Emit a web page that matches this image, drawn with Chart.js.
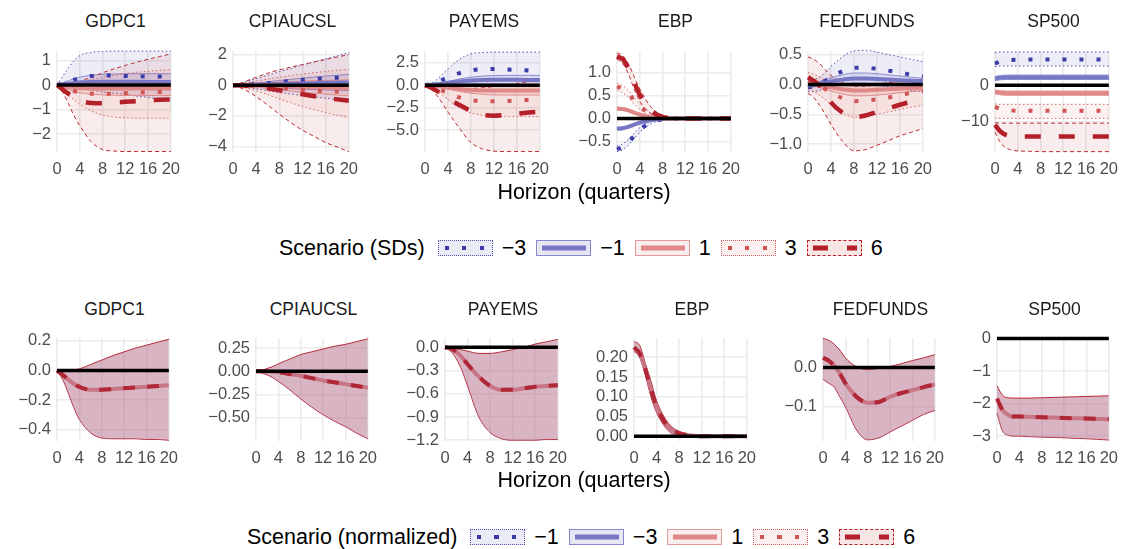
<!DOCTYPE html>
<html>
<head>
<meta charset="utf-8">
<script src="https://cdn.jsdelivr.net/npm/chart.js@4.4.1/dist/chart.umd.min.js"></script>
<style>
body { margin:0; width:1131px; height:549px; background:#fff; position:relative; overflow:hidden;
       font-family:"Liberation Sans", Arial, sans-serif; }
canvas { position:absolute; }
.ttl { position:absolute; font-size:17.5px; line-height:20px; color:#1a1a1a; transform:translateX(-50%); white-space:nowrap; }
.axt { position:absolute; font-size:21.5px; line-height:24px; color:#000; transform:translateX(-50%); white-space:nowrap; }
.leg { position:absolute; display:flex; align-items:center; font-size:21.5px; line-height:24px; color:#000; white-space:nowrap; }
.key { position:relative; width:55px; height:16px; margin-left:10px; box-sizing:border-box; }
.key.first { margin-left:13px; }
.key i { position:absolute; left:5px; right:4px; top:50%; transform:translateY(-50%); }
.lab { margin-left:9px; }
.k1 { background:#ebebf6; border:1px dotted #4f4fb4; }
.k1 i { height:4px; background:repeating-linear-gradient(90deg,#3a3aa8 0 4px,transparent 4px 17.5px); left:6px; }
.k2 { background:#e7e7f4; border:1.5px solid #8787cd; }
.k2 i { height:5px; background:#7777c4; }
.k3 { background:#fbeeee; border:1.5px solid #e39a9a; }
.k3 i { height:5px; background:#e08888; }
.k4 { background:#fbefef; border:1px dotted #d46464; }
.k4 i { height:4px; background:repeating-linear-gradient(90deg,#cf5555 0 4px,transparent 4px 17.5px); left:6px; }
.k5 { background:#f8e5e5; border:1px dashed #b3202a; }
.k5 i { height:5px; background:repeating-linear-gradient(90deg,#b3202a 0 15px,transparent 15px 34px); }
</style>
</head>
<body>
<script>
Chart.defaults.font.family = '"Liberation Sans", Arial, sans-serif';

// horizons (quarters) and axis ticks
const H = [0, 1, 2, 3, 4, 6, 8, 10, 12, 14, 16, 18, 20];
const X_TICKS = [0, 4, 8, 12, 16, 20];
const VARS = ['GDPC1', 'CPIAUCSL', 'PAYEMS', 'EBP', 'FEDFUNDS', 'SP500'];
const SCEN_SD = ['\u22123', '\u22121', '1', '3', '6'];
const SCEN_NORM = ['\u22121', '\u22123', '1', '3', '6'];

// ---- top row (Scenario in SDs): each scenario = [lower, median, upper]
const GDPC1_M3 = [[0,-0.02,-0.05,-0.08,-0.12,-0.2,-0.28,-0.33,-0.38,-0.45,-0.5,-0.57,-0.63],
                  [0,0.08,0.15,0.22,0.28,0.37,0.4,0.39,0.37,0.36,0.35,0.35,0.34],
                  [0,0.35,0.7,1.0,1.2,1.33,1.37,1.38,1.38,1.38,1.38,1.38,1.38]];
const GDPC1_M1 = [[0,-0.03,-0.06,-0.09,-0.11,-0.14,-0.16,-0.17,-0.18,-0.18,-0.19,-0.19,-0.19],
                  [0,0.03,0.06,0.09,0.11,0.13,0.14,0.14,0.14,0.14,0.13,0.13,0.13],
                  [0,0.1,0.18,0.26,0.32,0.4,0.44,0.45,0.46,0.46,0.46,0.46,0.46]];
const GDPC1_P1 = [[0,-0.1,-0.18,-0.26,-0.31,-0.37,-0.4,-0.41,-0.42,-0.42,-0.42,-0.42,-0.42],
                  [0,-0.04,-0.07,-0.1,-0.12,-0.14,-0.14,-0.14,-0.14,-0.13,-0.13,-0.13,-0.13],
                  [0,0.02,0.05,0.08,0.1,0.14,0.16,0.17,0.18,0.18,0.19,0.19,0.19]];
const GDPC1_P3 = [[0,-0.15,-0.4,-0.6,-0.78,-1.05,-1.22,-1.3,-1.33,-1.35,-1.35,-1.35,-1.35],
                  [0,-0.08,-0.16,-0.24,-0.29,-0.35,-0.36,-0.35,-0.33,-0.31,-0.29,-0.28,-0.27],
                  [0,0.01,0.04,0.08,0.12,0.22,0.32,0.4,0.47,0.52,0.56,0.6,0.63]];
const GDPC1_P6 = [[0,-0.3,-0.75,-1.25,-1.65,-2.3,-2.62,-2.68,-2.7,-2.7,-2.7,-2.7,-2.7],
                  [0,-0.18,-0.35,-0.52,-0.63,-0.73,-0.74,-0.71,-0.68,-0.65,-0.62,-0.6,-0.58],
                  [0,0.0,0.03,0.08,0.15,0.32,0.5,0.66,0.8,0.93,1.05,1.16,1.27]];

const CPI_M3 = [[0,-0.06,-0.12,-0.18,-0.24,-0.36,-0.48,-0.58,-0.68,-0.77,-0.86,-0.94,-1.02],
                [0,0.02,0.04,0.06,0.08,0.13,0.2,0.28,0.35,0.4,0.45,0.49,0.52],
                [0,0.1,0.2,0.32,0.42,0.65,0.88,1.1,1.32,1.52,1.72,1.92,2.12]];
const CPI_M1 = [[0,-0.02,-0.04,-0.07,-0.1,-0.14,-0.19,-0.23,-0.26,-0.29,-0.31,-0.33,-0.35],
                [0,0,0.01,0.01,0.02,0.04,0.06,0.09,0.11,0.13,0.15,0.17,0.18],
                [0,0.03,0.06,0.1,0.14,0.22,0.3,0.38,0.46,0.53,0.59,0.65,0.7]];
const CPI_P1 = [[0,-0.03,-0.06,-0.1,-0.14,-0.22,-0.3,-0.38,-0.46,-0.53,-0.59,-0.65,-0.7],
                [0,0,-0.01,-0.01,-0.02,-0.04,-0.06,-0.09,-0.11,-0.13,-0.15,-0.17,-0.18],
                [0,0.02,0.04,0.07,0.1,0.14,0.19,0.23,0.26,0.29,0.31,0.33,0.35]];
const CPI_P3 = [[0,-0.07,-0.16,-0.26,-0.37,-0.62,-0.9,-1.15,-1.4,-1.6,-1.8,-1.97,-2.12],
                [0,-0.01,-0.02,-0.04,-0.06,-0.1,-0.17,-0.24,-0.3,-0.35,-0.39,-0.43,-0.46],
                [0,0.06,0.13,0.2,0.27,0.4,0.52,0.63,0.73,0.82,0.9,0.97,1.04]];
const CPI_P6 = [[0,-0.12,-0.3,-0.5,-0.75,-1.3,-1.9,-2.45,-2.95,-3.35,-3.75,-4.05,-4.35],
                [0,-0.01,-0.03,-0.06,-0.1,-0.2,-0.33,-0.47,-0.6,-0.72,-0.83,-0.93,-1.02],
                [0,0.1,0.22,0.38,0.52,0.78,1.0,1.18,1.35,1.52,1.68,1.84,2.0]];

const PAY_M3 = [[0,0.05,0.08,0.1,0.1,0.05,-0.02,-0.08,-0.1,-0.1,-0.05,0,0.05],
                [0,0.15,0.35,0.6,0.85,1.35,1.65,1.78,1.8,1.76,1.7,1.64,1.58],
                [0,0.2,0.6,1.2,1.8,2.9,3.5,3.65,3.7,3.7,3.7,3.7,3.7]];
const PAY_M1 = [[0,0.01,0.03,0.06,0.09,0.13,0.15,0.15,0.14,0.12,0.1,0.08,0.06],
                [0,0.04,0.1,0.18,0.26,0.42,0.52,0.58,0.6,0.6,0.6,0.59,0.58],
                [0,0.06,0.15,0.28,0.42,0.7,0.9,1.02,1.08,1.1,1.1,1.1,1.1]];
const PAY_P1 = [[0,-0.06,-0.15,-0.28,-0.42,-0.7,-0.9,-1.02,-1.08,-1.1,-1.1,-1.1,-1.1],
                [0,-0.04,-0.1,-0.18,-0.26,-0.42,-0.52,-0.58,-0.6,-0.6,-0.6,-0.59,-0.58],
                [0,-0.01,-0.03,-0.06,-0.09,-0.13,-0.15,-0.15,-0.14,-0.12,-0.1,-0.08,-0.06]];
const PAY_P3 = [[0,-0.2,-0.6,-1.1,-1.6,-2.5,-3.1,-3.35,-3.45,-3.5,-3.5,-3.5,-3.52],
                [0,-0.15,-0.35,-0.6,-0.85,-1.35,-1.65,-1.78,-1.8,-1.76,-1.7,-1.64,-1.58],
                [0,-0.05,-0.08,-0.1,-0.1,-0.05,0.02,0.08,0.1,0.1,0.05,0,-0.05]];
const PAY_P6 = [[0,-0.4,-1.1,-2.0,-3.0,-4.8,-6.4,-7.1,-7.35,-7.4,-7.4,-7.4,-7.4],
                [0,-0.25,-0.6,-1.0,-1.5,-2.2,-2.85,-3.3,-3.4,-3.3,-3.17,-3.05,-2.95],
                [0,-0.05,-0.12,-0.2,-0.28,-0.35,-0.35,-0.28,-0.15,0.0,0.2,0.4,0.6]];

const EBP_M3 = [[-0.72,-0.68,-0.58,-0.44,-0.3,-0.11,-0.03,-0.01,0,0,0,0,0],
                [-0.67,-0.62,-0.52,-0.38,-0.25,-0.08,-0.02,0,0,0,0,0,0],
                [-0.6,-0.55,-0.45,-0.32,-0.2,-0.05,0,0.01,0,0,0,0,0]];
const EBP_M1 = [[-0.25,-0.24,-0.2,-0.15,-0.1,-0.04,-0.01,0,0,0,0,0,0],
                [-0.22,-0.21,-0.18,-0.13,-0.09,-0.03,-0.01,0,0,0,0,0,0],
                [-0.19,-0.18,-0.15,-0.11,-0.07,-0.02,0,0,0,0,0,0,0]];
const EBP_P1 = [[0.19,0.18,0.15,0.11,0.07,0.02,0,0,0,0,0,0,0],
                [0.22,0.21,0.18,0.13,0.09,0.03,0.01,0,0,0,0,0,0],
                [0.25,0.24,0.2,0.15,0.1,0.04,0.01,0,0,0,0,0,0]];
const EBP_P3 = [[0.62,0.56,0.46,0.32,0.2,0.05,0,-0.01,0,0,0,0,0],
                [0.7,0.65,0.55,0.4,0.27,0.09,0.02,0,0,0,0,0,0],
                [0.78,0.72,0.62,0.47,0.33,0.12,0.03,0.01,0,0,0,0,0]];
const EBP_P6 = [[1.3,1.2,0.98,0.65,0.38,0.1,0.01,-0.01,-0.01,0,0,0,0],
                [1.36,1.3,1.1,0.8,0.52,0.17,0.04,0.01,0,0,0,0,0],
                [1.43,1.38,1.2,0.92,0.65,0.25,0.07,0.02,0.01,0,0,0,0]];

const FED_M3 = [[-0.12,-0.12,-0.1,-0.07,-0.04,0,0.01,0,-0.02,-0.04,-0.07,-0.1,-0.12],
                [-0.05,-0.03,0.01,0.06,0.12,0.22,0.28,0.28,0.26,0.23,0.2,0.16,0.13],
                [0.05,0.08,0.12,0.2,0.3,0.46,0.56,0.57,0.54,0.5,0.46,0.42,0.38]];
const FED_M1 = [[-0.05,-0.04,-0.03,-0.02,0,0.01,0.02,0.02,0.01,0.01,0,0,0],
                [-0.02,-0.01,0.01,0.03,0.05,0.08,0.1,0.1,0.09,0.08,0.07,0.06,0.05],
                [0.02,0.03,0.05,0.08,0.11,0.16,0.19,0.19,0.18,0.16,0.14,0.12,0.1]];
const FED_P1 = [[-0.02,-0.03,-0.05,-0.08,-0.11,-0.16,-0.19,-0.19,-0.18,-0.16,-0.14,-0.12,-0.1],
                [0.02,0.01,-0.01,-0.03,-0.05,-0.08,-0.1,-0.1,-0.09,-0.08,-0.07,-0.06,-0.05],
                [0.05,0.04,0.03,0.02,0,-0.01,-0.02,-0.02,-0.01,-0.01,0,0,0]];
const FED_P3 = [[-0.08,-0.12,-0.18,-0.26,-0.34,-0.48,-0.55,-0.54,-0.5,-0.46,-0.42,-0.38,-0.35],
                [0.05,0.03,-0.02,-0.08,-0.14,-0.23,-0.28,-0.27,-0.25,-0.22,-0.18,-0.14,-0.11],
                [0.2,0.17,0.12,0.07,0.03,-0.01,-0.02,-0.01,0.01,0.03,0.05,0.07,0.08]];
const FED_P6 = [[-0.15,-0.22,-0.35,-0.5,-0.67,-0.95,-1.11,-1.09,-1.02,-0.94,-0.86,-0.8,-0.74],
                [0.12,0.06,-0.02,-0.15,-0.3,-0.47,-0.55,-0.52,-0.46,-0.4,-0.34,-0.29,-0.25],
                [0.46,0.42,0.35,0.25,0.15,0.03,-0.03,-0.03,0,0.03,0.05,0.07,0.08]];

const SP_M3 = [[5.2,5.3,5.3,5.3,5.3,5.3,5.3,5.3,5.3,5.3,5.3,5.3,5.3],
               [6.0,6.6,6.9,7.0,7.1,7.1,7.1,7.1,7.1,7.1,7.1,7.1,7.1],
               [9.1,9.2,9.2,9.2,9.2,9.2,9.2,9.2,9.2,9.2,9.2,9.2,9.2]];
const SP_M1 = [[1.3,1.5,1.6,1.6,1.6,1.6,1.6,1.6,1.6,1.6,1.6,1.6,1.6],
               [1.8,2.1,2.2,2.2,2.2,2.2,2.2,2.2,2.2,2.2,2.2,2.2,2.2],
               [2.4,2.7,2.8,2.8,2.8,2.8,2.8,2.8,2.8,2.8,2.8,2.8,2.8]];
const SP_P1 = [[-2.4,-2.7,-2.8,-2.8,-2.8,-2.8,-2.8,-2.8,-2.8,-2.8,-2.8,-2.8,-2.8],
               [-1.8,-2.1,-2.2,-2.2,-2.2,-2.2,-2.2,-2.2,-2.2,-2.2,-2.2,-2.2,-2.2],
               [-1.3,-1.5,-1.6,-1.6,-1.6,-1.6,-1.6,-1.6,-1.6,-1.6,-1.6,-1.6,-1.6]];
const SP_P3 = [[-9.1,-9.2,-9.2,-9.2,-9.2,-9.2,-9.2,-9.2,-9.2,-9.2,-9.2,-9.2,-9.2],
               [-6.0,-6.6,-6.9,-7.0,-7.1,-7.1,-7.1,-7.1,-7.1,-7.1,-7.1,-7.1,-7.1],
               [-5.2,-5.3,-5.3,-5.3,-5.3,-5.3,-5.3,-5.3,-5.3,-5.3,-5.3,-5.3,-5.3]];
const SP_P6 = [[-13.0,-16.0,-17.4,-18.0,-18.2,-18.3,-18.4,-18.4,-18.4,-18.4,-18.4,-18.4,-18.4],
               [-11.0,-12.9,-13.8,-14.1,-14.2,-14.2,-14.2,-14.2,-14.2,-14.2,-14.2,-14.2,-14.2],
               [-10.4,-10.5,-10.5,-10.5,-10.5,-10.5,-10.5,-10.5,-10.5,-10.5,-10.5,-10.5,-10.5]];

// ---- bottom row (normalized): [lower, median, upper]
const GDPC1_N = [[0,-0.06,-0.15,-0.25,-0.33,-0.42,-0.455,-0.46,-0.46,-0.46,-0.465,-0.465,-0.47],
                 [0,-0.03,-0.06,-0.09,-0.11,-0.13,-0.13,-0.125,-0.12,-0.115,-0.11,-0.105,-0.1],
                 [0,0,0,0.005,0.01,0.04,0.07,0.1,0.125,0.15,0.17,0.19,0.21]];
const CPI_N = [[0,-0.02,-0.04,-0.07,-0.11,-0.2,-0.3,-0.39,-0.47,-0.54,-0.6,-0.67,-0.73],
               [0,0,0,-0.005,-0.01,-0.03,-0.05,-0.075,-0.1,-0.12,-0.14,-0.16,-0.18],
               [0,0.01,0.03,0.05,0.08,0.13,0.18,0.21,0.24,0.27,0.29,0.32,0.35]];
const PAY_N = [[0,-0.05,-0.15,-0.3,-0.5,-0.9,-1.1,-1.18,-1.2,-1.2,-1.2,-1.19,-1.19],
               [0,-0.02,-0.06,-0.13,-0.22,-0.38,-0.5,-0.55,-0.55,-0.53,-0.51,-0.5,-0.49],
               [0,-0.01,-0.02,-0.035,-0.05,-0.08,-0.08,-0.06,-0.03,0,0.04,0.07,0.1]];
const EBP_N = [[0.215,0.2,0.155,0.1,0.06,0.015,0,-0.002,-0.001,0,0,0,0],
               [0.225,0.21,0.17,0.12,0.075,0.025,0.008,0.002,0,0,0,0,0],
               [0.24,0.23,0.185,0.14,0.09,0.035,0.012,0.004,0.001,0,0,0,0]];
const FED_N = [[-0.03,-0.04,-0.05,-0.075,-0.1,-0.16,-0.185,-0.18,-0.165,-0.15,-0.135,-0.12,-0.11],
               [0.025,0.018,0.005,-0.015,-0.04,-0.075,-0.09,-0.088,-0.075,-0.065,-0.058,-0.05,-0.043],
               [0.075,0.07,0.06,0.045,0.025,0.002,-0.005,-0.002,0.003,0.01,0.018,0.025,0.033]];
const SP_N = [[-2.3,-2.85,-2.97,-3.0,-3.0,-3.02,-3.03,-3.04,-3.05,-3.07,-3.08,-3.1,-3.12],
              [-1.85,-2.2,-2.35,-2.4,-2.4,-2.41,-2.42,-2.43,-2.44,-2.45,-2.46,-2.47,-2.48],
              [-1.45,-1.75,-1.82,-1.83,-1.83,-1.83,-1.82,-1.81,-1.8,-1.79,-1.78,-1.77,-1.76]];

// y axes: range, tick values, tick labels
const TOP_YMIN = [-2.72, -4.37, -7.45, -0.73, -1.13, -18.5];
const TOP_YMAX = [1.39, 2.24, 3.83, 1.48, 0.56, 9.5];
const TOP_YTICKS = [[1,0,-1,-2], [2,0,-2,-4], [2.5,0,-2.5,-5], [1,0.5,0,-0.5], [0.5,0,-0.5,-1], [0,-10]];
const TOP_YLABELS = [['1','0','\u22121','\u22122'], ['2','0','\u22122','\u22124'],
                     ['2.5','0.0','\u22122.5','\u22125.0'], ['1.0','0.5','0.0','\u22120.5'],
                     ['0.5','0.0','\u22120.5','\u22121.0'], ['0','\u221210']];
const BOT_YMIN = [-0.475, -0.755, -1.21, -0.012, -0.188, -3.15];
const BOT_YMAX = [0.219, 0.36, 0.12, 0.249, 0.076, 0.02];
const BOT_YTICKS = [[0.2,0,-0.2,-0.4], [0.25,0,-0.25,-0.5], [0,-0.3,-0.6,-0.9,-1.2],
                    [0.2,0.15,0.1,0.05,0], [0,-0.1], [0,-1,-2,-3]];
const BOT_YLABELS = [['0.2','0.0','\u22120.2','\u22120.4'], ['0.25','0.00','\u22120.25','\u22120.50'],
                     ['0.0','\u22120.3','\u22120.6','\u22120.9','\u22121.2'],
                     ['0.20','0.15','0.10','0.05','0.00'], ['0.0','\u22120.1'], ['0','\u22121','\u22122','\u22123']];

const TOP_DATA = [[GDPC1_M3, GDPC1_M1, GDPC1_P1, GDPC1_P3, GDPC1_P6],
                  [CPI_M3, CPI_M1, CPI_P1, CPI_P3, CPI_P6],
                  [PAY_M3, PAY_M1, PAY_P1, PAY_P3, PAY_P6],
                  [EBP_M3, EBP_M1, EBP_P1, EBP_P3, EBP_P6],
                  [FED_M3, FED_M1, FED_P1, FED_P3, FED_P6],
                  [SP_M3, SP_M1, SP_P1, SP_P3, SP_P6]];
const BOT_DATA = [GDPC1_N, CPI_N, PAY_N, EBP_N, FED_N, SP_N];

// layout (pixels)
const TOP_X0 = [57, 233, 425, 617, 808, 995];
const TOP_X1 = [174, 352, 543, 734, 926, 1112];
const BOT_X0 = [57, 256, 445, 634, 823, 997];
const BOT_X1 = [172, 371, 561, 750, 938, 1112];
const TOP_Y0 = 43, TOP_Y1 = 152, BOT_Y0 = 330, BOT_Y1 = 441;

// scenario styles (top row order -3, -1, 1, 3, 6)
const STY = [
  { line: '#3a3aa8', dash: [4, 13], w: 4, edge: '#5050b4', edash: [1.5, 2.5], fill: 'rgba(80,80,180,0.10)' },
  { line: '#7777c5', dash: [], w: 4, edge: '#8a8ad0', edash: [], fill: 'rgba(110,110,200,0.15)' },
  { line: '#e08888', dash: [], w: 4, edge: '#e49a9a', edash: [], fill: 'rgba(225,130,130,0.15)' },
  { line: '#d05555', dash: [4, 13], w: 4, edge: '#d86a6a', edash: [1.5, 2.5], fill: 'rgba(215,90,90,0.08)' },
  { line: '#b3202a', dash: [16, 18], w: 4.5, edge: '#bd2a30', edash: [4, 3], fill: 'rgba(190,40,40,0.09)' }
];

const pts = arr => H.map((h, i) => ({ x: h, y: arr[i] }));
const base = { pointRadius: 0, cubicInterpolationMode: 'monotone', borderCapStyle: 'butt', clip: 3, fill: false };

function makePanel(x0, x1, y0, y1, yMin, yMax, yTicks, yLabels, layers) {
  const YW = 64, PT = 8, PR = 14, XH = 32;
  const w = x1 - x0 + YW + PR, h = y1 - y0 + PT + XH;
  const c = document.createElement('canvas');
  c.width = w; c.height = h;
  c.style.left = (x0 - YW) + 'px'; c.style.top = (y0 - PT) + 'px';
  c.style.width = w + 'px'; c.style.height = h + 'px';
  document.body.appendChild(c);
  // layers listed bottom -> top; lower order draws on top
  const datasets = layers.map((d, i) => Object.assign({}, base, d, { order: -i }));
  new Chart(c, {
    type: 'line',
    data: { datasets },
    options: {
      responsive: false, animation: false, devicePixelRatio: 1,
      layout: { padding: { left: 0, top: PT, right: PR, bottom: 0 } },
      plugins: { legend: { display: false }, tooltip: { enabled: false } },
      scales: {
        x: {
          type: 'linear', min: 0, max: 20,
          afterFit: s => { s.height = XH; },
          afterBuildTicks: s => { s.ticks = X_TICKS.map(v => ({ value: v })); },
          grid: { color: '#ebebeb', lineWidth: 1.6, drawTicks: false },
          border: { display: false },
          ticks: { padding: 8, color: '#4d4d4d', font: { size: 16.5 }, maxRotation: 0, autoSkip: false }
        },
        y: {
          min: yMin, max: yMax,
          afterFit: s => { s.width = YW; },
          afterBuildTicks: s => { s.ticks = yTicks.map(v => ({ value: v })); },
          grid: { color: '#ebebeb', lineWidth: 1.6, drawTicks: false },
          border: { display: false },
          ticks: { padding: 6, color: '#4d4d4d', font: { size: 16.5 },
                   callback: v => yLabels[yTicks.indexOf(v)] }
        }
      }
    }
  });
}

function addText(cls, txt, x, y) {
  const d = document.createElement('div');
  d.className = cls; d.textContent = txt;
  d.style.left = x + 'px'; d.style.top = y + 'px';
  document.body.appendChild(d);
}

const zero = { data: [{ x: 0, y: 0 }, { x: 20, y: 0 }], borderColor: '#000', borderWidth: 3.5 };

// top row
VARS.forEach((name, p) => {
  const layers = [];
  TOP_DATA[p].forEach((sc, k) => {
    const s = STY[k];
    layers.push({ data: pts(sc[0]), borderColor: s.edge, borderWidth: 1, borderDash: s.edash });
    layers.push({ data: pts(sc[2]), borderColor: s.edge, borderWidth: 1, borderDash: s.edash,
                  fill: '-1', backgroundColor: s.fill });
  });
  TOP_DATA[p].forEach((sc, k) => {
    const s = STY[k];
    layers.push({ data: pts(sc[1]), borderColor: s.line, borderWidth: s.w, borderDash: s.dash });
  });
  layers.push(zero);
  makePanel(TOP_X0[p], TOP_X1[p], TOP_Y0, TOP_Y1, TOP_YMIN[p], TOP_YMAX[p], TOP_YTICKS[p], TOP_YLABELS[p], layers);
  addText('ttl', name, (TOP_X0[p] + TOP_X1[p]) / 2, 11);
});

// bottom row
VARS.forEach((name, p) => {
  const sc = BOT_DATA[p];
  const layers = [
    { data: pts(sc[0]), borderColor: '#b52a3a', borderWidth: 1 },
    { data: pts(sc[2]), borderColor: '#b52a3a', borderWidth: 1, fill: '-1', backgroundColor: 'rgba(180,105,135,0.5)' },
    { data: pts(sc[1]), borderColor: '#c87585', borderWidth: 4 },
    { data: pts(sc[1]), borderColor: '#b02838', borderWidth: 4, borderDash: [12, 12] },
    zero
  ];
  makePanel(BOT_X0[p], BOT_X1[p], BOT_Y0, BOT_Y1, BOT_YMIN[p], BOT_YMAX[p], BOT_YTICKS[p], BOT_YLABELS[p], layers);
  addText('ttl', name, (BOT_X0[p] + BOT_X1[p]) / 2, 299);
});

addText('axt', 'Horizon (quarters)', 584, 180);
addText('axt', 'Horizon (quarters)', 584, 468);

function legend(title, labels, x, y) {
  const d = document.createElement('div');
  d.className = 'leg';
  d.style.left = x + 'px'; d.style.top = y + 'px';
  let html = '<span>' + title + '</span>';
  labels.forEach((l, k) => {
    html += '<span class="key k' + (k + 1) + (k === 0 ? ' first' : '') + '"><i></i></span><span class="lab">' + l + '</span>';
  });
  d.innerHTML = html;
  document.body.appendChild(d);
}
legend('Scenario (SDs)', SCEN_SD, 279, 236);
legend('Scenario (normalized)', SCEN_NORM, 247, 525);
</script>
</body>
</html>
